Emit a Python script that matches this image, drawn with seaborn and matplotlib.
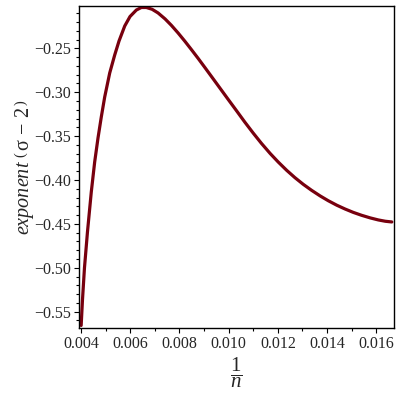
import numpy as np
import pandas as pd
import seaborn as sns
import matplotlib
matplotlib.use('Agg')
import matplotlib.pyplot as plt
from matplotlib.ticker import MultipleLocator, FuncFormatter

# values (x = 1/n, y = exponent)
inv_n = [0.004008, 0.004061, 0.004142, 0.004264, 0.004419, 0.004557, 0.004692,
         0.004826, 0.004964, 0.005168, 0.005371, 0.005546, 0.005778, 0.005993,
         0.006250, 0.006453, 0.006656, 0.006888, 0.007132, 0.007417, 0.007673,
         0.007946, 0.008218, 0.008475, 0.008759, 0.009044, 0.009300, 0.009654,
         0.009979, 0.010326, 0.010659, 0.010997, 0.011334, 0.011688, 0.012014,
         0.012360, 0.012693, 0.013031, 0.013368, 0.013722, 0.014048, 0.014393,
         0.014727, 0.015065, 0.015402, 0.015756, 0.016082, 0.016366, 0.016631]
exponent = [-0.5657, -0.5367, -0.5002, -0.4592, -0.4137, -0.3795, -0.3522,
            -0.3282, -0.3055, -0.2781, -0.2576, -0.2417, -0.2246, -0.2138,
            -0.2064, -0.2035, -0.2035, -0.2055, -0.2097, -0.2165, -0.2238,
            -0.2325, -0.2418, -0.2510, -0.2614, -0.2722, -0.2820, -0.2956,
            -0.3081, -0.3213, -0.3341, -0.3465, -0.3583, -0.3698, -0.3795,
            -0.3890, -0.3973, -0.4049, -0.4117, -0.4182, -0.4236, -0.4287,
            -0.4330, -0.4369, -0.4402, -0.4432, -0.4455, -0.4470, -0.4478]

x_ticks = [0.004, 0.006, 0.008, 0.010, 0.012, 0.014, 0.016]
y_ticks = [-0.55, -0.50, -0.45, -0.40, -0.35, -0.30, -0.25]

sns.set_style("white")
plt.rcParams['font.family'] = ['Liberation Serif', 'DejaVu Serif']
plt.rcParams['mathtext.fontset'] = 'custom'
plt.rcParams['mathtext.rm'] = 'Liberation Serif'
plt.rcParams['mathtext.it'] = 'Liberation Serif:italic'
plt.rcParams['mathtext.bf'] = 'Liberation Serif:bold'

df = pd.DataFrame({'inv_n': inv_n, 'exponent': exponent})

fig = plt.figure(figsize=(4, 4), dpi=100)
ax = fig.add_axes([0.1975, 0.18, 0.7875, 0.805])
sns.lineplot(data=df, x='inv_n', y='exponent', sort=False, color='#78000E',
             linewidth=2.3, ax=ax)

ax.set_xlim(0.00392, 0.01672)
ax.set_ylim(-0.5686, -0.2018)
ax.set_xticks(x_ticks)
ax.set_yticks(y_ticks)
ax.xaxis.set_minor_locator(MultipleLocator(0.001))
ax.yaxis.set_minor_locator(MultipleLocator(0.01))
ax.xaxis.set_major_formatter(FuncFormatter(lambda v, p: '%.3f' % v))
ax.yaxis.set_major_formatter(FuncFormatter(lambda v, p: ('%.2f' % v).replace('-', '\u2212')))

ax.tick_params(which='both', direction='out', bottom=True, left=True,
               top=False, right=False, color='black', width=0.8, labelsize=11.5,
               pad=2)
ax.tick_params(which='major', length=3.5)
ax.tick_params(which='minor', length=2.5)
for s in ax.spines.values():
    s.set_color('black')
    s.set_linewidth(1.0)

ax.set_xlabel(r'$\dfrac{1}{n}$', fontsize=15, labelpad=3)
ax.set_ylabel(r'$\mathit{exponent}\ \left(\,\mathrm{\sigma}\,-\,2\,\right)$', fontsize=14.5, labelpad=-1)

fig.savefig('out.png', dpi=100)
